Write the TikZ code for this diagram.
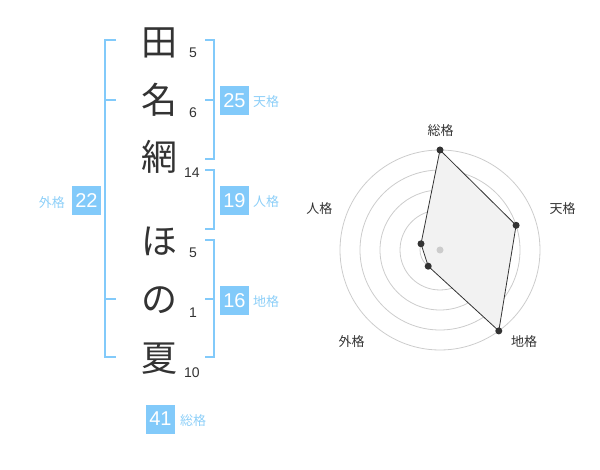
\documentclass[tikz,border=0pt]{standalone}
\usepackage{fontspec}
\setmainfont{Liberation Sans}
\newfontfamily\jp{Noto Sans CJK JP}
\definecolor{sky}{HTML}{82CAFA}
\definecolor{skytxt}{HTML}{8DCFF8}
\definecolor{ink}{HTML}{333333}
\definecolor{ring}{HTML}{CCCCCC}
\definecolor{area}{HTML}{F2F2F2}
\begin{document}
\begin{tikzpicture}[x=1pt,y=-1pt,
  namechar/.style={font=\jp\fontsize{36}{36}\selectfont,text=ink,inner sep=0pt,text height=30pt,text depth=4pt},
  stroke/.style={font=\fontsize{14}{14}\selectfont,text=ink,inner sep=0pt},
  valbox/.style={fill=sky,text=white,minimum width=29pt,minimum height=29pt,inner sep=0pt,font=\fontsize{20}{20}\selectfont},
  kaku/.style={font=\jp\fontsize{13}{13}\selectfont,text=skytxt,inner sep=0pt},
  axislabel/.style={font=\jp\fontsize{13}{13}\selectfont,text=ink,inner sep=0pt},
  bracket/.style={draw=sky,line width=2pt},
  ringline/.style={draw=ring,line width=0.8pt},
  dot/.style={circle,fill=ink,inner sep=0pt,minimum size=7pt}]
\useasboundingbox (0,0) rectangle (600,470);
% name characters
\node[namechar] (c1) at (159.5,43) {田};
\node[namechar] (c2) at (159.5,101) {名};
\node[namechar] (c3) at (159.5,158) {網};
\node[namechar] (c4) at (159.5,242) {ほ};
\node[namechar] (c5) at (159.5,300) {の};
\node[namechar] (c6) at (159.5,358) {夏};
% stroke counts
\node[stroke] (s1) at (193,53) {5};
\node[stroke] (s2) at (193,113) {6};
\node[stroke] (s3) at (192,173) {14};
\node[stroke] (s4) at (193,253) {5};
\node[stroke] (s5) at (193,313) {1};
\node[stroke] (s6) at (192,373) {10};
% brackets
\draw[bracket] (116,40) -- (105,40) -- (105,357) -- (116,357);
\draw[bracket] (105,100) -- (116,100);
\draw[bracket] (105,299) -- (116,299);
\draw[bracket] (205,40) -- (214,40) -- (214,159) -- (205,159);
\draw[bracket] (205,100) -- (214,100);
\draw[bracket] (205,170) -- (214,170) -- (214,229) -- (205,229);
\draw[bracket] (205,240) -- (214,240) -- (214,357) -- (205,357);
\draw[bracket] (205,299) -- (214,299);
% value boxes
\node[valbox] (ten) at (234.5,100.5) {25};
\node[kaku,anchor=west] (tenl) at (253,102) {天格};
\node[valbox] (jin) at (234.5,200.5) {19};
\node[kaku,anchor=west] (jinl) at (253,202) {人格};
\node[valbox] (chi) at (234.5,300.5) {16};
\node[kaku,anchor=west] (chil) at (253,302) {地格};
\node[valbox] (gai) at (86.5,201) {22};
\node[kaku,anchor=east] (gail) at (65,203) {外格};
\node[valbox] (sou) at (160.5,419) {41};
\node[kaku,anchor=west] (soul) at (180,421) {総格};
% radar chart
\coordinate (o) at (440,250);
\foreach \r in {20,40,60,80,100} \draw[ringline] (o) circle (\r);
\coordinate (p1) at (440,150);
\coordinate (p2) at (516.1,225.3);
\coordinate (p3) at (498.8,330.9);
\coordinate (p4) at (428.2,266.2);
\coordinate (p5) at (421,243.8);
\draw[fill=area,draw=ink,line width=0.8pt] (p1) -- (p2) -- (p3) -- (p4) -- (p5) -- cycle;
\node[circle,fill=ring,inner sep=0pt,minimum size=7pt] (center) at (o) {};
\foreach \p in {p1,p2,p3,p4,p5} \node[dot] (d\p) at (\p) {};
\node[axislabel] (a1) at (440.7,130.7) {総格};
\node[axislabel] (a2) at (562.7,209) {天格};
\node[axislabel] (a3) at (524,342) {地格};
\node[axislabel] (a4) at (351.7,342) {外格};
\node[axislabel] (a5) at (319.3,209) {人格};
\end{tikzpicture}
\end{document}
